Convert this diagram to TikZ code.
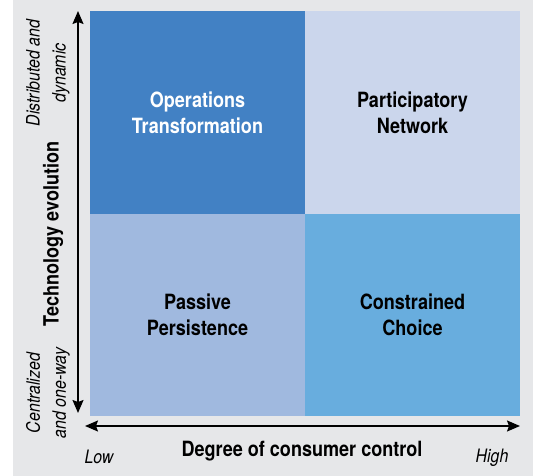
\documentclass[tikz,border=0pt]{standalone}
\usepackage{fontspec}
\setmainfont{TeX Gyre Heros}[FakeStretch=0.86]
\usetikzlibrary{arrows.meta}

\definecolor{bggray}{HTML}{E6E7E9}
\definecolor{opblue}{HTML}{4281C4}
\definecolor{netblue}{HTML}{CBD6EC}
\definecolor{pasblue}{HTML}{A0B9DF}
\definecolor{conblue}{HTML}{68ADDE}

\begin{document}
\begin{tikzpicture}[x=1pt,y=-1pt,>={Stealth[length=13pt,width=11pt,inset=2pt]},line width=1.5pt,
  quad/.style={minimum width=215pt,minimum height=202pt,inner sep=0pt,align=center,font=\bfseries\fontsize{21}{26}\selectfont},
  axis label/.style={font=\bfseries\fontsize{21}{25}\selectfont},
  end label/.style={align=center,font=\itshape\fontsize{18.5}{26}\selectfont}]

            \fill[bggray] (13,0) rectangle (533,476);
            \useasboundingbox (0,0) rectangle (533,476);

            \node[quad, fill=opblue, text=white] (ot) at (197.5,112.5) {Operations\\Transformation};
            \node[quad, fill=netblue, node distance=215pt] (pn) [right of = ot] {Participatory\\Network};
            \node[quad, fill=pasblue, node distance=202pt] (pp) [below of = ot] {Passive\\Persistence};
            \node[quad, fill=conblue, node distance=202pt] (cc) [below of = pn] {Constrained\\Choice};

            \coordinate (vtop) at (78,11);
            \coordinate (vbot) at (78,413);
            \coordinate (hleft) at (85,426);
            \coordinate (hright) at (520,426);

            \draw[<->] (vbot) to (vtop);
            \draw[<->] (hleft) to (hright);

            \node[axis label, rotate=90] (tech) at (53,234) {Technology evolution};
            \node[axis label] (deg) at (302,451) {Degree of consumer control};
            \node[end label, rotate=90] (dist) at (48,73) {Distributed and\\dynamic};
            \node[end label, rotate=90] (cent) at (48,393) {Centralized\\and one-way};
            \node[end label] (low) at (99,457) {Low};
            \node[end label] (high) at (492,458) {High};

            ;
        \end{tikzpicture}
\end{document}
